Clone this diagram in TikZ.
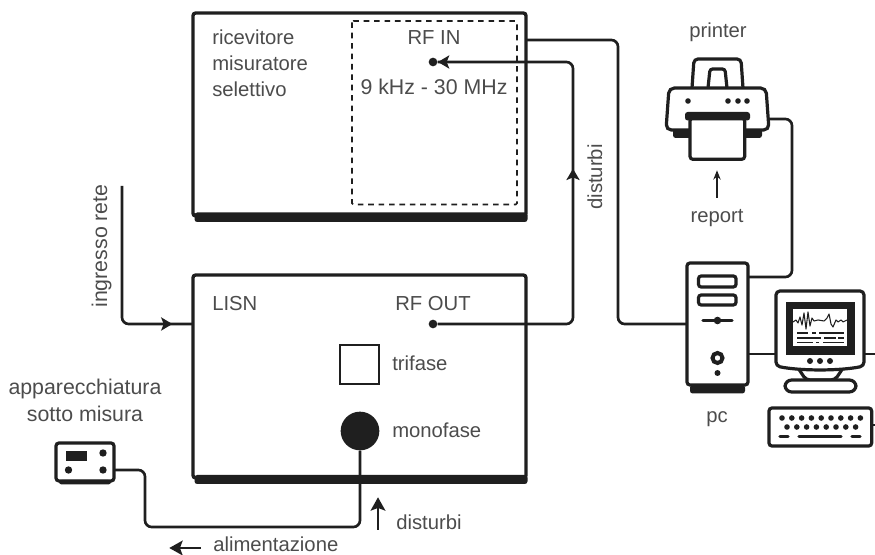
\documentclass[tikz,border=0pt]{standalone}
\usepackage{fontspec}
\setmainfont{Liberation Sans}
\usetikzlibrary{arrows.meta,decorations.markings}
\definecolor{ink}{gray}{0.12}
\definecolor{txt}{gray}{0.3}
\tikzset{
  x=0.75pt,y=-0.75pt,
  lab/.style={text=txt,font=\fontsize{15.2}{18}\selectfont,inner sep=0pt,align=center},
  large/.style={font=\fontsize{16}{19}\selectfont},
  labl/.style={lab,anchor=base west},
  labc/.style={lab,anchor=base},
  bigbox/.style={draw=ink,line width=2.5pt,fill=white,rounded corners=2pt,inner sep=0pt,outer sep=0pt,anchor=north west},
  icon/.style={draw=ink,line width=2.4pt,fill=white,rounded corners=2.2pt,inner sep=0pt,outer sep=0pt,anchor=north west},
  wire/.style={draw=ink,line width=2pt,rounded corners=5pt},
  dotn/.style={circle,fill=ink,inner sep=0pt,minimum size=6.5pt},
  pin/.style={inner sep=0pt,minimum size=0pt},
  arrowat/.style={postaction={decorate},decoration={markings,mark=at position #1 with {\arrow[line width=1pt]{Stealth[length=8.5pt,width=10pt,inset=2pt]}}}}
}
\begin{document}
\begin{tikzpicture}
\useasboundingbox (0,0) rectangle (875,555);
% ---- receiver
\node[bigbox,minimum width=249.75pt,minimum height=152.25pt] (rx) at (193,13) {};
\fill[ink,rounded corners=2pt] (194.5,212.5) rectangle (527.5,222);
\draw[ink,line width=1.2pt,dash pattern=on 4.2pt off 3.6pt,rounded corners=1pt] (352,21) rectangle (517,204.5);
\node[labl] (t1) at (212,45) {ricevitore};
\node[labl] (t2) at (212,71) {misuratore};
\node[labl] (t3) at (212,97) {selettivo};
\node[labc] (rfinl) at (434,45) {RF IN};
\node[labc,large] (band) at (434,95) {9 kHz - 30 MHz};
\node[dotn] (rfin) at (433,62) {};
% ---- LISN
\node[bigbox,minimum width=249.75pt,minimum height=152.25pt] (lisn) at (193,275) {};
\fill[ink,rounded corners=2pt] (194.5,475) rectangle (527.5,484);
\node[labl] (t4) at (212,311) {LISN};
\node[labc] (rfoutl) at (433,311) {RF OUT};
\node[dotn] (rfout) at (433,324) {};
\node[draw=ink,line width=1.1pt,inner sep=0pt,minimum size=29pt] (tri) at (359.5,364.5) {};
\node[labl] (t5) at (392,371) {trifase};
\node[circle,fill=ink,inner sep=0pt,minimum size=29pt] (mono) at (360,431) {};
\node[labl] (t6) at (392,438) {monofase};
% ---- device
\node[icon,minimum width=43.5pt,minimum height=28.5pt] (dev) at (56,443) {};
\fill[ink,rounded corners=2pt] (59,480) rectangle (111,484.5);
\fill[ink] (66,451) rectangle (87,461);
\fill[ink] (103,453) circle[radius=3.7] (68.5,470) circle[radius=3.7] (103,470) circle[radius=3.7];
\node[labc,large] (t7) at (85,395) {apparecchiatura};
\node[labc,large] (t8) at (85,422) {sotto misura};
% ---- printer
\draw[ink,line width=2.4pt,fill=white,rounded corners=3pt] (692,88) -- (694,59) -- (741,59) -- (743,88);
\draw[ink,line width=2.4pt,fill=white,rounded corners=2pt] (708,88) -- (710,69) -- (725,69) -- (727,88);
\node[labc] (t9) at (718,38) {printer};
\fill[ink,rounded corners=2pt] (673,124) rectangle (762,138);
\draw[ink,line width=2.4pt,fill=white,rounded corners=4pt] (669,88) -- (766,88) -- (769,130) -- (666,130) -- cycle;
\coordinate (prnport) at (769,119);
\fill[ink] (688,101) circle[radius=2.8] (728,101) circle[radius=2.8] (738,101) circle[radius=2.8] (747,101) circle[radius=2.8];
\node[icon,minimum width=41pt,minimum height=31pt] (paper) at (690,118) {};
\fill[ink,rounded corners=2pt] (685,112) rectangle (750,120.5);
\node[labc] (t10) at (717,223) {report};
\node[pin] (repa) at (717,198) {};
\node[pin] (repb) at (717,170) {};
% ---- pc
\node[icon,minimum width=45.75pt,minimum height=91.5pt] (pc) at (687,263) {};
\fill[ink,rounded corners=2pt] (690,385) rectangle (745,393.5);
\draw[ink,line width=2.4pt,rounded corners=2pt] (698.5,276) rectangle (736,287) (698.5,295) rectangle (736,305);
\draw[ink,line width=2.4pt,line cap=round] (703,320.5) -- (732,320.5);
\fill[ink] (717.5,320.5) circle[radius=3.8];
\draw[ink,line width=3pt] (717.5,358) circle[radius=5];
\fill[ink] (717.5,373) circle[radius=3];
\node[labc] (t11) at (717,423) {pc};
% ---- monitor
\draw[ink,line width=2.4pt,fill=white,rounded corners=3pt] (798,368) -- (806,380) -- (835,380) -- (843,368);
\draw[ink,line width=2.4pt,fill=white,rounded corners=5pt] (785,392) -- (785,380) -- (856,380) -- (856,392) -- cycle;
\draw[ink,line width=2.4pt,fill=white,rounded corners=3pt] (776,291) -- (864,291) -- (864,366) .. controls (840,371) and (800,371) .. (776,366) -- cycle;
\coordinate (monl) at (776,354);
\coordinate (monr) at (864,354);
\fill[ink] (786,302) rectangle (855,355);
\fill[white] (793,309) rectangle (847,346);
\draw[ink,line width=0.8pt,line join=round] (793,322) -- (796,320) -- (798,323) -- (800,317) -- (802,325) -- (804,313) -- (806,329) -- (808,312) -- (810,326) -- (812,318) -- (814,321) -- (818,320) -- (824,321) -- (827,318) -- (829,314) -- (831,324) -- (833,327) -- (836,320) -- (838,322) -- (841,320) -- (843,322) -- (847,320);
\draw[ink,line width=1.1pt] (797,333) -- (808,333) (812,333) -- (816,333) (819,333) -- (844,333)
  (797,338) -- (821,338) (824,338) -- (836,338) (838,338) -- (844,338)
  (797,342.5) -- (813,342.5) (816,342.5) -- (819,342.5) (823,342.5) -- (844,342.5);
\fill[ink] (810,361) circle[radius=3] (820,361) circle[radius=3] (830,361) circle[radius=3];
% ---- keyboard
\node[icon,minimum width=77pt,minimum height=28.5pt] (kbd) at (769,408) {};
\foreach \i in {0,...,8} \fill[ink] (782+9.8*\i,418) circle[radius=2.8];
\foreach \i in {0,...,7} \fill[ink] (787+9.8*\i,427) circle[radius=2.8];
\draw[ink,line width=2.4pt,line cap=round] (780,436.5) -- (788,436.5) (799,436.5) -- (841,436.5) (852,436.5) -- (860,436.5);
% ---- free ends
\coordinate (mainsin) at (122,186);
\coordinate (edgea) at (875,354);
\coordinate (edgeb) at (875,425);
% ---- connectors
\draw[wire,arrowat=0.9] (mainsin) -- (122,324) -- (lisn.west |- 0,324);
\draw[wire,arrowat=0.546] (rfout) -- (573,324) -- (573,62) -- (rfin);
\draw[ink,line width=1pt,-{Stealth[length=8.5pt,width=10pt,inset=2pt]}] (460,62) -- (438,62);
\draw[wire] (rx.east |- 0,40) -- (618,40) -- (618,324) -- (pc.west |- 0,324);
\draw[wire] (prnport) -- (792,119) -- (792,277) -- (pc.east |- 0,277);
\draw[wire] (pc.east |- 0,354) -- (monl);
\draw[wire] (monr) -- (edgea);
\draw[wire] (kbd.east |- edgeb) -- (edgeb);
\draw[wire] (mono) -- (360,527) -- (145,527) -- (145,470) -- (dev.east |- 0,470);
\draw[ink,line width=1.1pt,-{Stealth[length=7pt,width=5.5pt]}] (repa) -- (repb);
% ---- notes
\node[lab,rotate=90,anchor=base] (t12) at (602,177) {disturbi};
\node[lab,large,rotate=90,anchor=base] (t13) at (107,246) {ingresso rete};
\node[labl] (t14) at (396,530) {disturbi};
\node[labl] (t15) at (213,552) {alimentazione};
\node[pin] (da) at (378,530) {};
\node[pin] (db) at (378,497) {};
\draw[ink,line width=1.8pt,-{Stealth[length=10pt,width=11pt,inset=2pt]}] (da) -- (db);
\node[pin] (aa) at (201,548) {};
\node[pin] (ab) at (169,548) {};
\draw[ink,line width=1.8pt,-{Stealth[length=10pt,width=11pt,inset=2pt]}] (aa) -- (ab);
\end{tikzpicture}
\end{document}
